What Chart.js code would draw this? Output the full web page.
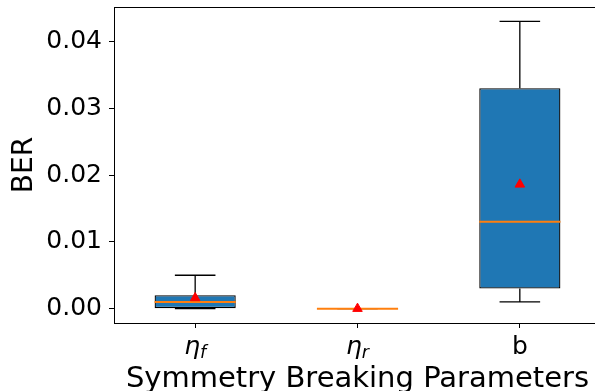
<!DOCTYPE html>
<html>
<head>
<meta charset="utf-8">
<script src="https://cdn.jsdelivr.net/npm/chart.js@4"></script>
<style>
html, body { margin: 0; padding: 0; overflow: hidden; background: #fff; }
#wrap { width: 595px; height: 391px; overflow: hidden; position: relative; }
#chart { display: block; }
</style>
</head>
<body>
<div id="wrap"><canvas id="chart" width="601" height="391"></canvas></div>
<script>
// box plot summary per parameter
var categories = ['η_f', 'η_r', 'b'];
var labelMain = ['η', 'η', 'b'];
var labelSub = ['f', 'r', ''];
var q1 = [0.0, 0.0, 0.003];
var q3 = [0.002, 0.0, 0.033];
var medians = [0.001, 0.0, 0.013];
var whiskerLow = [0.0, 0.0, 0.001];
var whiskerHigh = [0.005, 0.0, 0.043];
var means = [0.0016, 0.0, 0.0186];
var yTicks = [0.00, 0.01, 0.02, 0.03, 0.04];

var FONT = "'DejaVu Sans', sans-serif";

var boxParts = {
    id: 'boxParts',
    afterDatasetDraw: function(chart, args){
        if(args.index !== 0) return;
        var ctx = chart.ctx;
        var x = chart.scales.x, y = chart.scales.y;
        var meta = chart.getDatasetMeta(0);
        ctx.save();
        for(var i = 0; i < categories.length; i++){
            var xc = x.getPixelForValue(i);
            var half = meta.data[i].width / 2;
            var cap = half / 2;
            ctx.strokeStyle = '#000';
            ctx.lineWidth = 1.3;
            ctx.beginPath();
            ctx.moveTo(xc, y.getPixelForValue(q3[i]));
            ctx.lineTo(xc, y.getPixelForValue(whiskerHigh[i]));
            ctx.moveTo(xc, y.getPixelForValue(q1[i]));
            ctx.lineTo(xc, y.getPixelForValue(whiskerLow[i]));
            ctx.moveTo(xc - cap, y.getPixelForValue(whiskerHigh[i]));
            ctx.lineTo(xc + cap, y.getPixelForValue(whiskerHigh[i]));
            ctx.moveTo(xc - cap, y.getPixelForValue(whiskerLow[i]));
            ctx.lineTo(xc + cap, y.getPixelForValue(whiskerLow[i]));
            ctx.stroke();
            ctx.strokeStyle = '#ff7f0e';
            ctx.lineWidth = 2;
            ctx.beginPath();
            ctx.moveTo(xc - half, y.getPixelForValue(medians[i]));
            ctx.lineTo(xc + half, y.getPixelForValue(medians[i]));
            ctx.stroke();
        }
        ctx.restore();
    },
    afterDraw: function(chart){
        var ctx = chart.ctx, a = chart.chartArea, x = chart.scales.x;
        ctx.save();
        ctx.strokeStyle = '#000';
        ctx.lineWidth = 1;
        ctx.beginPath();
        ctx.moveTo(a.left, a.top + 0.5);
        ctx.lineTo(a.right, a.top + 0.5);
        ctx.moveTo(a.right - 0.5, a.top);
        ctx.lineTo(a.right - 0.5, a.bottom);
        ctx.stroke();
        // x tick labels with subscripts
        ctx.fillStyle = '#000';
        ctx.textBaseline = 'alphabetic';
        ctx.textAlign = 'left';
        var base = a.bottom + 31;
        for(var i = 0; i < categories.length; i++){
            var xc = x.getPixelForValue(i);
            var mainFont = (labelSub[i] ? 'italic ' : '') + '25px ' + FONT;
            var subFont = 'italic 17.5px ' + FONT;
            ctx.font = mainFont;
            var w1 = ctx.measureText(labelMain[i]).width;
            ctx.font = subFont;
            var w2 = labelSub[i] ? ctx.measureText(labelSub[i]).width : 0;
            var x0 = xc - (w1 + w2) / 2;
            ctx.font = mainFont;
            ctx.fillText(labelMain[i], x0, base);
            if(labelSub[i]){
                ctx.font = subFont;
                ctx.fillText(labelSub[i], x0 + w1, base + 4);
            }
        }
        ctx.restore();
    }
};

window.onload = function(){
    var canvas = document.getElementById('chart');
    window.chartInstance = new Chart(canvas.getContext('2d'), {
        type: 'bar',
        data: {
            labels: categories,
            datasets: [{
                label: 'box',
                data: q1.map(function(v, i){ return [v, q3[i]]; }),
                backgroundColor: '#1f77b4',
                borderColor: '#000',
                borderWidth: 1.3,
                borderSkipped: false,
                barPercentage: 0.5,
                categoryPercentage: 1.0,
                order: 2
            },{
                label: 'mean',
                type: 'line',
                data: means,
                showLine: false,
                pointStyle: 'triangle',
                pointRadius: 5.5,
                pointBackgroundColor: 'red',
                pointBorderColor: 'red',
                pointBorderWidth: 1,
                order: 1
            }]
        },
        options: {
            responsive: false,
            animation: false,
            layout: { autoPadding: false, padding: { top: 7, right: 0, left: 0, bottom: 0 } },
            plugins: { legend: { display: false }, tooltip: { enabled: false } },
            scales: {
                x: {
                    offset: true,
                    grid: { display: true, drawOnChartArea: false, drawTicks: true, tickLength: 5, color: '#000', offset: false },
                    border: { display: true, color: '#000', width: 1 },
                    ticks: { callback: function(){ return ''; } },
                    title: {
                        display: true,
                        text: 'Symmetry Breaking Parameters',
                        color: '#000',
                        font: { family: FONT, size: 29, lineHeight: 1 },
                        padding: { top: 0, bottom: -3 }
                    },
                    afterFit: function(s){ s.height = 68; s.paddingLeft = 0; s.paddingRight = 0; }
                },
                y: {
                    min: -0.00215,
                    max: 0.04515,
                    grid: { display: true, drawOnChartArea: false, drawTicks: true, tickLength: 5, color: '#000' },
                    border: { display: true, color: '#000', width: 1 },
                    afterBuildTicks: function(s){ s.ticks = yTicks.map(function(v){ return { value: v }; }); },
                    ticks: {
                        color: '#000',
                        padding: 7,
                        font: { family: FONT, size: 25 },
                        callback: function(v){ return Number(v).toFixed(2); }
                    },
                    title: {
                        display: true,
                        text: 'BER',
                        color: '#000',
                        font: { family: FONT, size: 28, lineHeight: 1 },
                        padding: { top: 11, bottom: 0 }
                    },
                    afterFit: function(s){ s.width = 114; s.paddingTop = 0; s.paddingBottom = 0; }
                }
            }
        },
        plugins: [boxParts]
    });
};
</script>
</body>
</html>
